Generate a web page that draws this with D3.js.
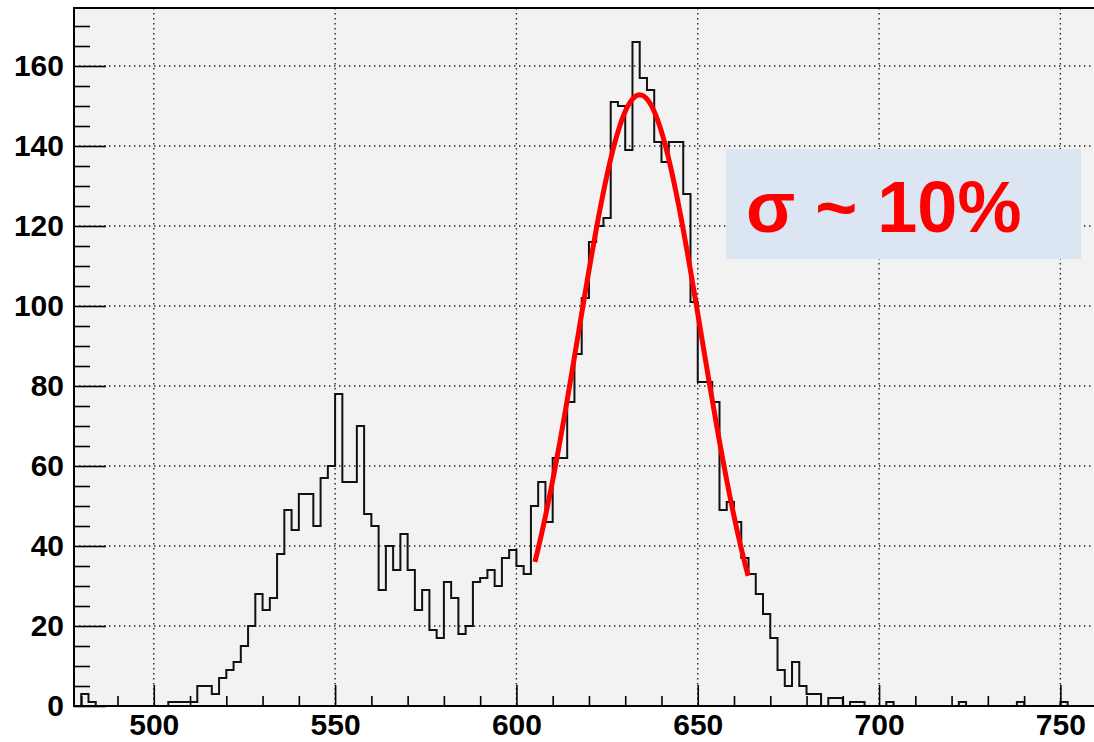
<!DOCTYPE html>
<html>
<head>
<meta charset="utf-8">
<script src="https://cdn.jsdelivr.net/npm/d3@7"></script>
<style>
  body { margin: 0; background: #fff; }
  svg { display: block; }
  text { font-family: "Liberation Sans", Arial, sans-serif; font-weight: bold; }
</style>
</head>
<body>
<svg id="chart" width="1094" height="742"></svg>
<script>
// histogram: 2-unit bins starting at 478
const binStart = 478;
const binWidth = 2;
const counts = [
    0, 3, 1, 0, 0, 0, 0, 0, 0, 0,         // 478 - 496
    0, 0, 0, 1, 1, 1, 1, 5, 5, 3,         // 498 - 516
    7, 9, 11, 15, 20, 28, 24, 27, 38, 49, // 518 - 536
    44, 53, 53, 45, 57, 60, 78, 56, 56, 70, // 538 - 556
    48, 45, 29, 40, 34, 43, 34, 24, 29, 19, // 558 - 576
    17, 31, 27, 18, 20, 31, 32, 34, 30, 37, // 578 - 596
    39, 35, 33, 50, 56, 46, 62, 62, 76, 88, // 598 - 616
    102, 116, 120, 122, 151, 150, 139, 166, 157, 154, // 618 - 636
    141, 136, 141, 141, 128, 101, 81, 81, 76, 49, // 638 - 656
    51, 46, 37, 33, 28, 23, 17, 9, 5, 11,   // 658 - 676
    5, 3, 3, 0, 2, 2, 0, 1, 1, 0,           // 678 - 696
    0, 0, 1, 0, 0, 0, 0, 0, 0, 0,           // 698 - 716
    0, 0, 1, 0, 0, 0, 0, 0, 0, 0,           // 718 - 736
    1, 0, 0, 0, 0, 0, 1, 0, 0, 0            // 738 - 756
];

// gaussian fit drawn over the peak
const fitAmp = 152.8;
const fitMean = 634;
const fitSigma = 17;
const fitRange = [605.1, 664.4];

const xMajor = [500, 550, 600, 650, 700, 750];
const yMajor = [0, 20, 40, 60, 80, 100, 120, 140, 160];
const label = "σ ~ 10%";

const svg = d3.select("#chart");
const padL = 74, padT = 8, padB = 706;

const x = d3.scaleLinear().domain([478, 760]).range([padL, padL + 282 * 3.6264]);
const y = d3.scaleLinear().domain([0, 174.5]).range([padB, padT]);
const padR = x.range()[1];

svg.append("defs").append("clipPath").attr("id", "plot-clip")
    .append("rect")
    .attr("x", padL).attr("y", padT)
    .attr("width", padR - padL).attr("height", padB - padT);

// frame fill
svg.append("rect")
    .attr("x", padL).attr("y", padT)
    .attr("width", padR - padL).attr("height", padB - padT)
    .attr("fill", "#f2f2f2");

// dotted grid
const grid = svg.append("g")
    .attr("stroke", "#222")
    .attr("stroke-width", 1.4)
    .attr("stroke-dasharray", "1.4,3.6");
grid.selectAll(".gx").data(xMajor).join("line")
    .attr("x1", d => x(d)).attr("x2", d => x(d))
    .attr("y1", padT).attr("y2", padB);
grid.selectAll(".gy").data(yMajor.slice(1)).join("line")
    .attr("x1", padL).attr("x2", padR)
    .attr("y1", d => y(d)).attr("y2", d => y(d));

// histogram outline
const steps = counts.map((c, i) => ({ v: binStart + i * binWidth, c: c }));
steps.push({ v: binStart + counts.length * binWidth, c: counts[counts.length - 1] });

const histLine = d3.line()
    .x(d => x(d.v))
    .y(d => y(d.c))
    .curve(d3.curveStepAfter);

svg.append("path")
    .datum(steps)
    .attr("clip-path", "url(#plot-clip)")
    .attr("d", histLine)
    .attr("fill", "none")
    .attr("stroke", "#111")
    .attr("stroke-width", 2);

// fit curve
const gauss = v => fitAmp * Math.exp(-Math.pow(v - fitMean, 2) / (2 * fitSigma * fitSigma));
const fitPts = d3.range(fitRange[0], fitRange[1] + 0.01, 0.6).map(v => ({ v: v, c: gauss(v) }));

svg.append("path")
    .datum(fitPts)
    .attr("d", d3.line().x(d => x(d.v)).y(d => y(d.c)))
    .attr("fill", "none")
    .attr("stroke", "#ff0000")
    .attr("stroke-width", 5);

// label box
svg.append("rect")
    .attr("x", 726).attr("y", 149)
    .attr("width", 355).attr("height", 110)
    .attr("fill", "#dce6f2");
svg.append("text")
    .attr("x", 746).attr("y", 232)
    .attr("font-size", 72)
    .attr("fill", "#ff0000")
    .text(label);

// axes, ticks inside the frame
const tickStyle = g => {
    g.select(".domain").remove();
    g.selectAll("line").attr("stroke", "#000").attr("stroke-width", 1.6);
    g.selectAll("text").attr("fill", "#000");
};

svg.append("g")
    .attr("transform", `translate(0,${padB})`)
    .call(d3.axisBottom(x).tickValues(d3.range(480, 760, 10).filter(v => v % 50 !== 0)).tickSize(-10).tickFormat(""))
    .call(tickStyle);
svg.append("g")
    .attr("transform", `translate(0,${padB})`)
    .call(d3.axisBottom(x).tickValues(xMajor).tickSize(-21).tickPadding(8))
    .call(tickStyle)
    .call(g => g.selectAll("text").attr("font-size", 30));

svg.append("g")
    .attr("transform", `translate(${padL},0)`)
    .call(d3.axisLeft(y).tickValues(d3.range(5, 175, 5).filter(v => v % 20 !== 0)).tickSize(-16).tickFormat(""))
    .call(tickStyle);
svg.append("g")
    .attr("transform", `translate(${padL},0)`)
    .call(d3.axisLeft(y).tickValues(yMajor).tickSize(-32).tickPadding(10))
    .call(tickStyle)
    .call(g => g.selectAll("text").attr("font-size", 30));

// frame border
svg.append("rect")
    .attr("x", padL).attr("y", padT)
    .attr("width", padR - padL).attr("height", padB - padT)
    .attr("fill", "none")
    .attr("stroke", "#000")
    .attr("stroke-width", 2);
</script>
</body>
</html>
